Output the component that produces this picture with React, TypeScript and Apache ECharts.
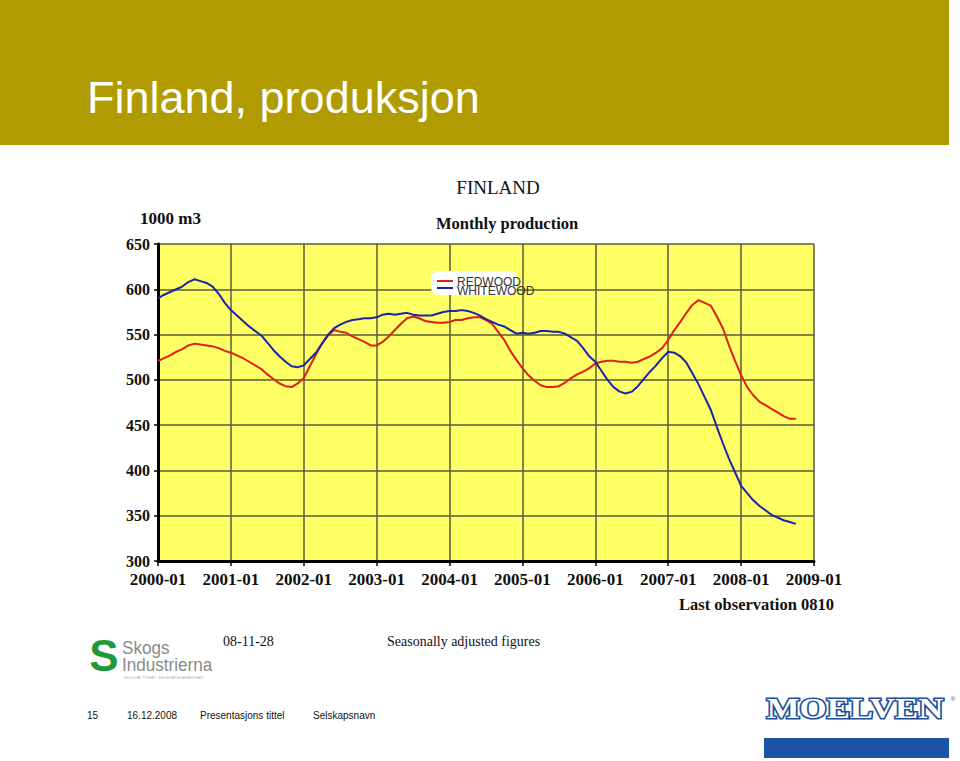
import React, { useEffect, useRef } from "react";
import * as echarts from "echarts";

// Monthly categories 2000-01 .. 2009-01
const MONTHS: string[] = [];
for (let y = 2000; y <= 2009; y++) {
  for (let m = 1; m <= 12; m++) {
    if (y === 2009 && m > 1) break;
    MONTHS.push(`${y}-${m < 10 ? "0" + m : m}`);
  }
}

const Y_TICKS = [300, 350, 400, 450, 500, 550, 600, 650];

// Redwood, monthly 2000-01 .. 2008-10 (1000 m3, seasonally adjusted)
const REDWOOD = [
  521, 524, 527, 531, 534, 538, 540, 539, 538, 537, 535, 532,
  530, 527, 524, 520, 516, 512, 506, 501, 496, 493, 492, 496,
  502, 515, 528, 540, 549, 555, 553, 552, 548, 545, 542, 538,
  538, 542, 548, 555, 562, 568, 570, 568, 565, 564, 563, 563,
  564, 566, 566, 568, 569, 569, 566, 562, 553, 544, 532, 522,
  513, 505, 499, 494, 492, 492, 493, 497, 502, 506, 509, 513,
  518, 520, 521, 521, 520, 520, 519, 520, 523, 526, 530, 535,
  544, 555, 564, 574, 583, 588, 585, 582, 570, 557, 538, 521,
  505, 492, 483, 476, 472, 468, 464, 460, 457, 457,
];

// Whitewood, monthly 2000-01 .. 2008-10
const WHITEWOOD = [
  590, 594, 597, 600, 603, 608, 611, 609, 607, 603, 595, 585,
  577, 571, 565, 559, 554, 549, 541, 533, 526, 520, 515, 514,
  516, 523, 530, 540, 550, 557, 561, 564, 566, 567, 568, 568,
  569, 572, 573, 572, 573, 574, 572, 571, 571, 571, 573, 575,
  576, 576, 577, 576, 574, 571, 567, 564, 561, 559, 555, 551,
  552, 551, 552, 554, 554, 553, 553, 551, 547, 543, 535, 526,
  520, 510, 500, 492, 487, 485, 487, 493, 501, 509, 516, 524,
  531, 530, 526, 519, 507, 495, 481, 467, 448, 430, 413, 398,
  383, 375, 367, 361, 356, 351, 348, 345, 343, 341,
];

const SERIES_NAMES = ["REDWOOD", "WHITEWOOD"];
const COLORS = ["#e01f14", "#1c23a6"];

const SERIF = "'Liberation Serif', 'DejaVu Serif', serif";
const SANS = "'Liberation Sans', Arial, sans-serif";

export default function App() {
  const ref = useRef<HTMLDivElement>(null);
  useEffect(() => {
    if (!ref.current) return;
    const chart = echarts.init(ref.current, null, { renderer: "svg" });
    const gridColor = "#5a5a3c";
    chart.setOption({
      animation: false,
      backgroundColor: "#ffffff",
      grid: {
        left: 158,
        right: 146,
        top: 244,
        bottom: 200,
        show: true,
        backgroundColor: "#ffff66",
        borderWidth: 0,
      },
      xAxis: {
        type: "category",
        data: MONTHS,
        boundaryGap: false,
        axisLine: { show: true, lineStyle: { color: "#000", width: 3 } },
        axisTick: { show: true, interval: 11, length: 5, lineStyle: { color: "#000", width: 1.5 } },
        axisLabel: {
          interval: 11,
          color: "#111",
          fontFamily: SERIF,
          fontSize: 17,
          fontWeight: "bold",
          margin: 10,
        },
        splitLine: { show: true, interval: 11, lineStyle: { color: gridColor, width: 1.5 } },
      },
      yAxis: {
        type: "value",
        min: Y_TICKS[0],
        max: Y_TICKS[Y_TICKS.length - 1],
        interval: 50,
        axisLine: { show: true, lineStyle: { color: "#000", width: 3 } },
        axisTick: { show: true, length: 4, lineStyle: { color: "#000", width: 1.5 } },
        axisLabel: {
          color: "#111",
          fontFamily: SERIF,
          fontSize: 16,
          fontWeight: "bold",
          margin: 8,
        },
        splitLine: { show: true, lineStyle: { color: gridColor, width: 1.5 } },
      },
      series: [
        {
          name: SERIES_NAMES[0],
          type: "line",
          data: REDWOOD,
          showSymbol: false,
          symbol: "none",
          lineStyle: { color: COLORS[0], width: 2 },
          itemStyle: { color: COLORS[0] },
          z: 3,
        },
        {
          name: SERIES_NAMES[1],
          type: "line",
          data: WHITEWOOD,
          showSymbol: false,
          symbol: "none",
          lineStyle: { color: COLORS[1], width: 2 },
          itemStyle: { color: COLORS[1] },
          z: 4,
        },
      ],
      graphic: [
        // header band
        { type: "rect", left: 0, top: 0, shape: { width: 949, height: 145 }, style: { fill: "#b09b00" }, z: 0 },
        {
          type: "text", x: 87, y: 97,
          style: { text: "Finland, produksjon", fill: "#ffffff", font: `45px ${SANS}`, align: "left", verticalAlign: "middle" },
        },
        // chart titles
        {
          type: "text", x: 498, y: 187,
          style: { text: "FINLAND", fill: "#111", font: `19px ${SERIF}`, align: "center", verticalAlign: "middle" },
        },
        {
          type: "text", x: 507, y: 223,
          style: { text: "Monthly production", fill: "#111", font: `bold 16.5px ${SERIF}`, align: "center", verticalAlign: "middle" },
        },
        {
          type: "text", x: 140, y: 218,
          style: { text: "1000 m3", fill: "#111", font: `bold 17px ${SERIF}`, align: "left", verticalAlign: "middle" },
        },
        {
          type: "text", x: 834, y: 604,
          style: { text: "Last observation 0810", fill: "#111", font: `bold 16.5px ${SERIF}`, align: "right", verticalAlign: "middle" },
        },
        {
          type: "text", x: 223, y: 641,
          style: { text: "08-11-28", fill: "#111", font: `14px ${SERIF}`, align: "left", verticalAlign: "middle" },
        },
        {
          type: "text", x: 387, y: 641,
          style: { text: "Seasonally adjusted figures", fill: "#111", font: `14px ${SERIF}`, align: "left", verticalAlign: "middle" },
        },
        // legend
        {
          type: "rect", x: 431, y: 271, shape: { width: 86, height: 24, r: 7 },
          style: { fill: "#ffffff" }, z: 10,
        },
        {
          type: "line", shape: { x1: 437, y1: 281, x2: 453, y2: 281 },
          style: { stroke: COLORS[0], lineWidth: 2 }, z: 11,
        },
        {
          type: "line", shape: { x1: 437, y1: 288, x2: 453, y2: 288 },
          style: { stroke: COLORS[1], lineWidth: 2 }, z: 11,
        },
        {
          type: "text", x: 457, y: 282, z: 11,
          style: { text: SERIES_NAMES[0], fill: "#333", font: `12px ${SANS}`, align: "left", verticalAlign: "middle" },
        },
        {
          type: "text", x: 457, y: 291, z: 11,
          style: { text: SERIES_NAMES[1], fill: "#333", font: `12px ${SANS}`, align: "left", verticalAlign: "middle" },
        },
        // Skogs Industrierna logo
        {
          type: "text", x: 104, y: 655,
          style: { text: "S", fill: "#1f9a3a", font: `bold 44px ${SANS}`, align: "center", verticalAlign: "middle" },
        },
        {
          type: "text", x: 122, y: 648, scaleX: 0.95,
          style: { text: "Skogs", fill: "#8a8a8a", font: `18px ${SANS}`, align: "left", verticalAlign: "middle" },
        },
        {
          type: "text", x: 122, y: 665, scaleX: 0.95,
          style: { text: "Industrierna", fill: "#8a8a8a", font: `18px ${SANS}`, align: "left", verticalAlign: "middle" },
        },
        {
          type: "text", x: 124, y: 677,
          style: { text: "SKOG AV TOMAT  SELSKAPSKAPANSVAR", fill: "#b0b0b0", font: `4px ${SANS}`, align: "left", verticalAlign: "middle" },
        },
        // footer
        {
          type: "text", x: 87, y: 715,
          style: { text: "15", fill: "#111", font: `10px ${SANS}`, align: "left", verticalAlign: "middle" },
        },
        {
          type: "text", x: 127, y: 715,
          style: { text: "16.12.2008", fill: "#111", font: `10px ${SANS}`, align: "left", verticalAlign: "middle" },
        },
        {
          type: "text", x: 200, y: 715,
          style: { text: "Presentasjons tittel", fill: "#111", font: `10px ${SANS}`, align: "left", verticalAlign: "middle" },
        },
        {
          type: "text", x: 313, y: 715,
          style: { text: "Selskapsnavn", fill: "#111", font: `10px ${SANS}`, align: "left", verticalAlign: "middle" },
        },
        // Moelven logo
        {
          type: "text", x: 855, y: 708, scaleX: 1.2,
          style: {
            text: "MOELVEN", fill: "#ffffff", stroke: "#1d4f9c", lineWidth: 3,
            font: `bold 29px ${SERIF}`, align: "center", verticalAlign: "middle",
          },
        },
        {
          type: "text", x: 953, y: 699,
          style: { text: "®", fill: "#1d4f9c", font: `6px ${SANS}`, align: "center", verticalAlign: "middle" },
        },
        {
          type: "rect", x: 764, y: 738, shape: { width: 185, height: 20 },
          style: { fill: "#1d55a6" },
        },
      ],
    });
    return () => chart.dispose();
  }, []);
  return (
    <div
      ref={ref}
      style={{ position: "fixed", left: 0, top: 0, width: 960, height: 761 }}
    />
  );
}
